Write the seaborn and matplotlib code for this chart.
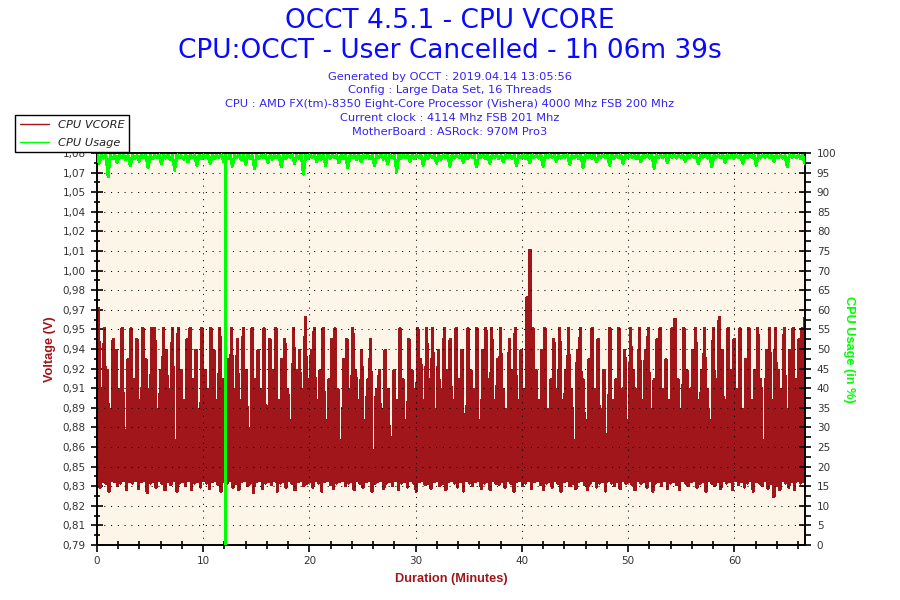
import numpy as np
import pandas as pd
import matplotlib
matplotlib.use("Agg")
import matplotlib.pyplot as plt
import seaborn as sns
from matplotlib.transforms import Bbox, TransformedBbox
from matplotlib.lines import Line2D

# ---------------- data ----------------
title_main = "OCCT 4.5.1 - CPU VCORE"
title_sub = "CPU:OCCT - User Cancelled - 1h 06m 39s"
info_lines = [
    "Generated by OCCT : 2019.04.14 13:05:56",
    "Config : Large Data Set, 16 Threads",
    "CPU : AMD FX(tm)-8350 Eight-Core Processor (Vishera) 4000 Mhz FSB 200 Mhz",
    "Current clock : 4114 Mhz FSB 201 Mhz",
    "MotherBoard : ASRock: 970M Pro3",
]
series_names = ["CPU VCORE", "CPU Usage"]
duration_min = 66.65

vcore_low_mv = [
    838, 833, 837, 836, 830, 838, 837, 834, 836, 838, 831, 837,
    836, 838, 832, 837, 838, 829, 836, 837, 833, 838, 836, 831,
    837, 835, 838, 830, 836, 837, 834, 838, 831, 836, 837, 833,
    838, 836, 832, 837, 838, 835, 830, 837, 836, 838, 833, 836,
    831, 837, 838, 834, 836, 829, 837, 838, 832, 836, 837, 835,
    838, 830, 836, 837, 833, 838, 836, 831, 837, 838, 834, 836,
    837, 833, 838, 836, 830, 837, 838, 835, 832, 836, 837, 838,
    834, 836, 837, 831, 838, 836, 833, 837, 838, 830, 836, 837,
    838, 832, 836, 837, 834, 838, 831, 836, 837, 833, 838, 836,
    830, 837, 838, 835, 836, 832, 837, 838, 834, 836, 831, 837,
    838, 836, 833, 837, 830, 838, 836, 834, 837, 838, 832, 836,
    837, 831, 838, 836, 835, 837, 833, 838, 836, 830, 837, 838,
    834, 836, 838, 832, 837, 838, 835, 831, 836, 837, 833, 838,
    836, 830, 837, 838, 834, 836, 832, 837, 838, 835, 831, 836,
    838, 833, 836, 837, 830, 838, 836, 834, 837, 832, 838, 836,
    837, 835, 831, 838, 836, 837, 833, 838, 830, 836, 837, 834,
    838, 832, 836, 837, 835, 831, 838, 836, 834, 837, 838, 833,
    836, 837, 830, 838, 836, 834, 837, 832, 838, 836, 837, 831,
    838, 835, 837, 833, 836, 838, 830, 837, 836, 834, 838, 832,
    836, 826, 834, 831, 838, 836, 833, 837, 831, 838, 836, 837,
]
# per-slice maximum of CPU VCORE (mV), read from the upper edge of the spikes
vcore_high_mv = [
    965, 905, 950, 919, 890, 942, 934, 905, 950, 860, 927, 950,
    912, 942, 897, 950, 927, 905, 950, 950, 890, 919, 950, 934,
    905, 950, 867, 950, 919, 897, 942, 950, 912, 934, 890, 950,
    919, 905, 950, 934, 897, 950, 912, 882, 927, 950, 905, 942,
    897, 950, 919, 867, 950, 912, 934, 905, 950, 890, 942, 919,
    950, 897, 927, 942, 905, 882, 950, 919, 934, 905, 958, 912,
    934, 950, 897, 919, 950, 882, 912, 942, 950, 905, 867, 927,
    942, 905, 950, 919, 897, 934, 882, 912, 942, 860, 905, 919,
    890, 934, 905, 852, 919, 897, 950, 912, 882, 942, 919, 905,
    950, 927, 897, 950, 912, 950, 890, 934, 905, 950, 919, 942,
    897, 950, 912, 934, 882, 950, 919, 905, 950, 867, 934, 950,
    912, 950, 897, 927, 950, 905, 890, 942, 919, 950, 897, 934,
    905, 973, 1008, 950, 919, 897, 934, 950, 890, 912, 942, 905,
    950, 897, 919, 950, 905, 867, 934, 950, 912, 882, 927, 950,
    905, 942, 890, 919, 860, 950, 897, 912, 950, 905, 934, 882,
    950, 919, 905, 950, 897, 934, 950, 890, 912, 942, 950, 905,
    927, 897, 950, 957, 912, 890, 950, 919, 905, 934, 950, 897,
    919, 950, 905, 882, 950, 912, 958, 934, 897, 950, 919, 942,
    905, 950, 890, 927, 950, 897, 919, 950, 912, 867, 934, 950,
    897, 950, 919, 905, 950, 890, 934, 950, 912, 942, 950, 958,
]
# CPU usage (%) samples
cpu_usage_pct = [
    99.5, 97.4, 99.4, 98.7, 99.5, 93.9, 99.4, 98.5, 99.5, 97.6, 99.4, 98.9, 99.5, 98.3, 99.4, 96.8,
    99.5, 98.6, 99.3, 97.9, 99.5, 98.8, 99.4, 96.3, 99.5, 98.5, 99.4, 98.9, 99.5, 97.2, 99.4, 98.7,
    99.5, 98.2, 99.4, 95.6, 99.5, 98.8, 99.3, 98.4, 99.5, 97.7, 99.4, 98.9, 99.5, 96.9, 99.4, 98.6,
    99.5, 98.8, 99.4, 97.4, 99.5, 98.5, 99.4, 98.9, 99.5, 97.9, 99.4, 98.6, 99.5, 96.6, 99.4, 98.8,
    99.5, 98.3, 99.4, 97.1, 99.5, 98.7, 99.3, 95.9, 99.5, 98.6, 99.4, 98.9, 99.5, 97.6, 99.4, 98.4,
    99.5, 98.8, 99.4, 96.4, 99.5, 98.5, 99.4, 98.9, 99.5, 97.3, 99.4, 98.7, 99.5, 94.6, 99.4, 98.6,
    99.5, 98.9, 99.4, 97.8, 99.5, 98.4, 99.4, 96.8, 99.5, 98.7, 99.4, 98.9, 99.5, 97.5, 99.4, 98.6,
    99.5, 96.2, 99.4, 98.8, 99.5, 98.3, 99.4, 97.7, 99.5, 98.9, 99.4, 98.5, 99.5, 96.7, 99.4, 98.8,
    99.5, 98.4, 99.4, 97.2, 99.5, 98.9, 99.4, 95.3, 99.5, 98.6, 99.4, 98.8, 99.5, 97.9, 99.4, 98.5,
    99.5, 98.9, 99.4, 96.9, 99.5, 98.6, 99.4, 98.8, 99.5, 97.4, 99.4, 98.4, 99.5, 98.9, 99.4, 96.6,
    99.5, 98.7, 99.4, 98.9, 99.5, 97.6, 99.4, 98.5, 99.5, 98.8, 99.4, 96.4, 99.5, 98.9, 99.4, 98.6,
    99.5, 97.3, 99.4, 98.8, 99.5, 98.5, 99.4, 97.8, 99.5, 98.9, 99.4, 98.7, 99.5, 96.8, 99.4, 98.9,
    99.5, 98.6, 99.4, 97.5, 99.5, 98.9, 99.4, 98.7, 99.5, 96.6, 99.4, 98.8, 99.5, 98.9, 99.4, 97.9,
    99.5, 98.7, 99.4, 98.9, 99.5, 97.1, 99.4, 98.8, 99.5, 98.5, 99.4, 96.3, 99.5, 98.9, 99.4, 98.7,
    99.5, 97.7, 99.4, 98.9, 99.5, 98.8, 99.4, 96.9, 99.5, 98.7, 99.4, 98.9, 99.5, 97.4, 99.4, 98.8,
    99.5, 98.9, 99.4, 98.6, 99.5, 97.8, 99.4, 98.9, 99.5, 98.7, 99.4, 96.1, 99.5, 98.9, 99.4, 98.8,
    99.5, 97.5, 99.4, 98.9, 99.5, 98.7, 99.4, 98.9, 99.5, 97.9, 99.4, 98.8, 99.5, 98.9, 99.4, 97.2,
    99.5, 98.9, 99.4, 98.7, 99.5, 96.4, 99.4, 98.9, 99.5, 98.8, 99.4, 97.6, 99.5, 98.9, 99.4, 98.7,
    99.5, 98.9, 99.4, 97.4, 99.5, 98.8, 99.4, 98.9, 99.5, 96.9, 99.4, 98.7, 99.5, 98.9, 99.4, 98.8,
    99.5, 97.8, 99.4, 98.9, 99.5, 98.7, 99.4, 96.5, 99.5, 98.9, 99.4, 98.8, 99.5, 98.6, 99.4, 97.2,
]
# single-sample drop of CPU usage around minute 12.1
usage_drop_min = [12.10, 12.11, 12.12]
usage_drop_pct = [99.0, 0.0, 99.0]

volt_tick_labels = ["0,79", "0,81", "0,82", "0,83", "0,85", "0,86", "0,88", "0,89",
                    "0,91", "0,92", "0,94", "0,95", "0,97", "0,98", "1,00", "1,01",
                    "1,02", "1,04", "1,05", "1,07", "1,08"]
usage_ticks = list(range(0, 101, 5))
minute_ticks = [0, 10, 20, 30, 40, 50, 60]
minute_minor_ticks = list(range(0, 67, 2))

# ---------------- styling ----------------
RED = "#A0161A"
GREEN = "#00FF00"
BLUE = "#0A0AFF"
INFO = "#3322EE"
BG = "#FCF5E8"
TICKC = "#333333"

sns.set_theme(style="ticks")
plt.rcParams["font.family"] = ["DejaVu Sans"]

fig = plt.figure(figsize=(9, 6), dpi=100)
fig.patch.set_facecolor("white")
ax = fig.add_axes([97 / 900, 55 / 600, 708 / 900, 392 / 600])
ax.set_facecolor(BG)

# VCORE: interleave slice minimum / maximum
n = len(vcore_low_mv)
volts = np.empty(2 * n)
volts[0::2] = np.array(vcore_low_mv) / 1000.0
volts[1::2] = np.array(vcore_high_mv) / 1000.0
t_v = np.linspace(0, duration_min, 2 * n)
df_v = pd.DataFrame({"t": t_v, "v": volts})
sns.lineplot(data=df_v, x="t", y="v", ax=ax, color=RED, linewidth=1.8,
             estimator=None, sort=False, antialiased=False)

ax.set_xlim(0, duration_min)
ax.set_ylim(0.79, 1.08)
vt = np.linspace(0.79, 1.08, 21)
ax.set_yticks(vt)
ax.set_yticklabels(volt_tick_labels)
ax.set_yticks((vt[:-1] + vt[1:]) / 2, minor=True)
ax.set_xticks(minute_ticks)
ax.set_xticklabels([str(m) for m in minute_ticks])
ax.set_xticks(minute_minor_ticks, minor=True)
ax.set_xlabel("")
ax.set_ylabel("")

ax2 = ax.twinx()
t_u = np.linspace(0, duration_min, len(cpu_usage_pct))
df_u = pd.DataFrame({"t": np.concatenate([t_u, usage_drop_min]),
                     "u": np.concatenate([cpu_usage_pct, usage_drop_pct])})
df_u = df_u.sort_values("t", kind="stable").reset_index(drop=True)
for m in minute_ticks[1:]:
    ax2.axvline(m, color="black", lw=0.75, ls=(0, (1, 5.5)), zorder=1)
for u in usage_ticks[1:-1]:
    ax2.axhline(u, color="black", lw=0.75, ls=(0, (1, 5.5)), zorder=1)
sns.lineplot(data=df_u, x="t", y="u", ax=ax2, color=GREEN, linewidth=1.4,
             estimator=None, sort=False, antialiased=False, zorder=3)
ax2.set_ylim(0, 100)
ax2.set_xlim(0, duration_min)
ax2.set_yticks(usage_ticks)
ax2.set_yticklabels([str(u) for u in usage_ticks])
ax2.set_yticks([u + 2.5 for u in usage_ticks[:-1]], minor=True)
ax2.set_ylabel("")
ax2.set_xlabel("")

for a in (ax, ax2):
    for s in a.spines.values():
        s.set_color("black")
        s.set_linewidth(1.2)
    a.spines["top"].set_visible(True)
    a.spines["right"].set_visible(True)

ax.tick_params(axis="y", which="major", direction="inout", length=8, width=1.2,
               color="black", labelcolor=TICKC, labelsize=7.5, pad=4, left=True, right=False)
ax.tick_params(axis="y", which="minor", direction="inout", length=5, width=1.2,
               color="black", left=True, right=False)
ax.tick_params(axis="x", which="major", direction="out", length=5, width=1.2,
               color="black", labelcolor=TICKC, labelsize=7.5, pad=3, bottom=True, top=False)
ax.tick_params(axis="x", which="minor", direction="inout", length=6, width=1.2,
               color="black", bottom=True, top=False)
ax2.tick_params(axis="y", which="major", direction="inout", length=9, width=1.2,
                color="black", labelcolor=TICKC, labelsize=7.5, pad=4, right=True, left=False)
ax2.tick_params(axis="y", which="minor", direction="out", length=4, width=1.2,
                color="black", right=True, left=False)

# the top voltage label is cut by the plot top edge
fig.canvas.draw()
top_lab = ax.yaxis.get_major_ticks()[-1].label1
top_lab.set_clip_box(TransformedBbox(Bbox([[-5, -5], [0.0, 1.0]]), ax.transAxes))
top_lab.set_clip_on(True)

# titles
fig.text(0.5, 1 - 20.5 / 600, title_main, ha="center", va="center", fontsize=19, color=BLUE)
fig.text(0.5, 1 - 50.5 / 600, title_sub, ha="center", va="center", fontsize=19, color=BLUE)
for i, line in enumerate(info_lines):
    fig.text(0.5, 1 - (76.5 + 13.8 * i) / 600, line, ha="center", va="center",
             fontsize=8.2, color=INFO)

# axis titles
fig.text(50 / 900, 1 - 349 / 600, "Voltage (V)", rotation=90, ha="center", va="center",
         fontsize=9.2, fontweight="bold", color=RED, family=["Liberation Sans"])
fig.text(849 / 900, 1 - 349 / 600, "CPU Usage (in %)", rotation=270, ha="center", va="center",
         fontsize=9.2, fontweight="bold", color=GREEN, family=["Liberation Sans"])
fig.text(451 / 900, 1 - 579 / 600, "Duration (Minutes)", ha="center", va="center",
         fontsize=9.2, fontweight="bold", color=RED, family=["Liberation Sans"])

# legend
handles = [Line2D([], [], color=RED, lw=1), Line2D([], [], color=GREEN, lw=1)]
leg = fig.legend(handles, series_names, loc="upper left",
                 bbox_to_anchor=(15 / 900, 1 - 115 / 600), borderaxespad=0,
                 frameon=True, fancybox=False, framealpha=1, edgecolor="black",
                 prop={"style": "italic", "size": 8.2}, handlelength=2.6,
                 handletextpad=0.75, borderpad=0.42, labelspacing=0.68)
leg.get_frame().set_linewidth(1.0)
for txt in leg.get_texts():
    txt.set_color("#222222")

fig.savefig("out.png", dpi=100, facecolor="white")
